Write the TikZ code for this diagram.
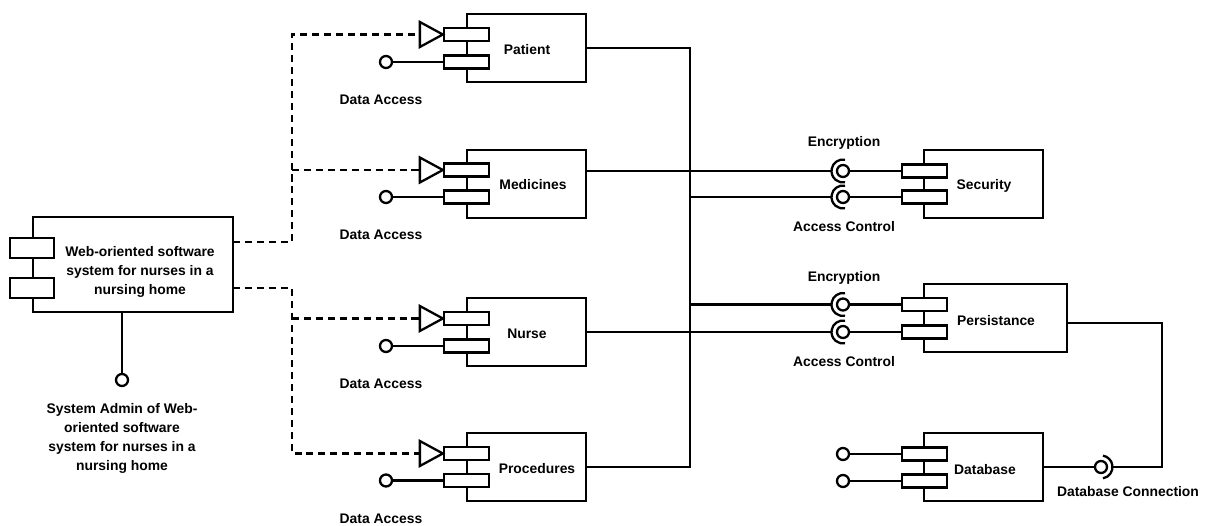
\documentclass[tikz,border=0pt]{standalone}
\usepackage{fontspec}
\setmainfont{Liberation Sans}
\usetikzlibrary{calc}
\newcommand{\pxu}{0.02cm}
\newcommand{\reqtri}[2]{%
  \draw[ln,fill=white] (#1.west) -- ++(-23,-12.5) -- ++(0,25) -- cycle;
  \coordinate (#2) at ([xshift=-23*\pxu]#1.west);}
\newcommand{\sockR}[2]{% socket opening right, around ball #1, left point #2
  \draw[ln] ([shift={(80:11.5*\pxu)}]#1.center) arc[start angle=80,end angle=280,radius=11.5*\pxu];
  \coordinate (#2) at ([xshift=-11.5*\pxu]#1.center);}
\begin{document}
\begin{tikzpicture}[x=0.02cm,y=-0.02cm,
  ln/.style={line width=1.3pt},
  comp/.style={draw,line width=1.3pt,fill=white,rectangle,inner sep=0pt},
  port/.style={draw,line width=1.3pt,fill=white,rectangle,inner sep=0pt,minimum width=45*\pxu,minimum height=13*\pxu},
  ball/.style={draw,line width=1.3pt,fill=white,circle,inner sep=0pt,minimum size=12*\pxu},
  dep/.style={line width=1.3pt,dash pattern=on 4pt off 2.8pt},
  txt/.style={align=center,inner sep=0pt,font=\fontsize{7.9}{10.9}\selectfont\bfseries}]
\fill[white] (0,0) rectangle (1211,526);
\useasboundingbox (0,0) rectangle (1211,526);

% ---------- Web-oriented system ----------
\node[comp,minimum width=200*\pxu,minimum height=95*\pxu] (web) at (133,264.5) {};
\node[port,minimum width=44*\pxu,minimum height=20*\pxu] (webP1) at (32,248) {};
\node[port,minimum width=44*\pxu,minimum height=20*\pxu] (webP2) at (32,288) {};
\node[txt] (webT) at (140,272) {Web-oriented software\\system for nurses in a\\nursing home};
\node[ball] (webB) at (122,380) {};
\draw[ln] (web.south -| webB) -- (webB);
\node[txt] (adminT) at (122,438.5) {System Admin of Web-\\oriented software\\system for nurses in a\\nursing home};

% ---------- Left column components ----------
% Patient
\node[comp,minimum width=119*\pxu,minimum height=68*\pxu] (patient) at (526.5,48) {};
\node[port] (patP1) at (466.5,34.5) {};
\node[port] (patP2) at (466.5,62) {};
\node[txt] (patientT) at (527,50) {Patient};
\reqtri{patP1}{patTri}
\node[ball] (patB) at (386,62) {};
\draw[ln] (patB) -- (patP2);
\node[txt] (patDA) at (381,100) {Data Access};

% Medicines
\node[comp,minimum width=119*\pxu,minimum height=68*\pxu] (medicines) at (526.5,184) {};
\node[port] (medP1) at (466.5,170) {};
\node[port] (medP2) at (466.5,197) {};
\node[txt] (medicinesT) at (533,185) {Medicines};
\reqtri{medP1}{medTri}
\node[ball] (medB) at (386,197) {};
\draw[ln] (medB) -- (medP2);
\node[txt] (medDA) at (381,235) {Data Access};

% Nurse
\node[comp,minimum width=119*\pxu,minimum height=68*\pxu] (nurse) at (526.5,332) {};
\node[port] (nurP1) at (466.5,318.5) {};
\node[port] (nurP2) at (466.5,346) {};
\node[txt] (nurseT) at (527,334) {Nurse};
\reqtri{nurP1}{nurTri}
\node[ball] (nurB) at (386,346) {};
\draw[ln] (nurB) -- (nurP2);
\node[txt] (nurDA) at (381,384) {Data Access};

% Procedures
\node[comp,minimum width=119*\pxu,minimum height=68*\pxu] (procedures) at (526.5,467) {};
\node[port] (proP1) at (466.5,453.5) {};
\node[port] (proP2) at (466.5,480.5) {};
\node[txt] (proceduresT) at (537,469) {Procedures};
\reqtri{proP1}{proTri}
\node[ball] (proB) at (386,480.5) {};
\draw[ln] (proB) -- (proP2);
\node[txt] (proDA) at (381,519) {Data Access};

% ---------- Dashed dependencies ----------
\coordinate (wA) at (233,242);
\coordinate (wB) at (233,288);
\coordinate (j1) at (292,242);
\coordinate (j2) at (292,288);
\draw[dep] (wA) -- (j1) |- (patTri);
\draw[dep] (j1 |- medTri) -- (medTri);
\draw[dep] (wB) -- (j2) |- (proTri);
\draw[dep] (j2 |- nurTri) -- (nurTri);

% ---------- Security ----------
\node[comp,minimum width=119*\pxu,minimum height=68*\pxu] (security) at (983.5,184) {};
\node[port] (secP1) at (924.5,171) {};
\node[port] (secP2) at (924.5,197) {};
\node[txt] (securityT) at (984,186) {Security};
\node[ball] (secB1) at (843,171) {};
\node[ball] (secB2) at (843,197) {};
\draw[ln] (secB1) -- (secP1);
\draw[ln] (secB2) -- (secP2);
\sockR{secB1}{secS1}
\sockR{secB2}{secS2}
\node[txt] (secEnc) at (844,143) {Encryption};
\node[txt] (secAC) at (844,227) {Access Control};

% ---------- Persistance ----------
\node[comp,minimum width=143*\pxu,minimum height=68*\pxu] (persistance) at (995.5,318) {};
\node[port] (perP1) at (924.5,304.5) {};
\node[port] (perP2) at (924.5,332) {};
\node[txt] (persistanceT) at (996,321) {Persistance};
\node[ball] (perB1) at (843,304.5) {};
\node[ball] (perB2) at (843,332) {};
\draw[ln] (perB1) -- (perP1);
\draw[ln] (perB2) -- (perP2);
\sockR{perB1}{perS1}
\sockR{perB2}{perS2}
\node[txt] (perEnc) at (844,278) {Encryption};
\node[txt] (perAC) at (844,362) {Access Control};

% ---------- Bus connections ----------
\coordinate (busT) at (690,48);
\coordinate (busB) at (690,467);
\draw[ln] (patient.east) -- (busT) -- (busB) -- (procedures.east);
\draw[ln] (medicines.east |- secS1) -- (secS1);
\draw[ln] (busT |- secS2) -- (secS2);
\draw[ln] (busT |- perS1) -- (perS1);
\draw[ln] (nurse.east) -- (perS2);

% ---------- Database ----------
\node[comp,minimum width=119*\pxu,minimum height=68*\pxu] (database) at (983.5,467) {};
\node[port] (dbP1) at (924.5,454) {};
\node[port] (dbP2) at (924.5,481) {};
\node[txt] (databaseT) at (985,470) {Database};
\node[ball] (dbB1) at (843,454) {};
\node[ball] (dbB2) at (843,481) {};
\draw[ln] (dbB1) -- (dbP1);
\draw[ln] (dbB2) -- (dbP2);
\node[ball] (dbConnB) at (1101,467) {};
\draw[ln] (database.east) -- (dbConnB);
\draw[ln] ([shift={(-80:11.5*\pxu)}]dbConnB.center) arc[start angle=-80,end angle=80,radius=11.5*\pxu];
\coordinate (dbS) at ([xshift=11.5*\pxu]dbConnB.center);
\coordinate (dbC) at (1162,467);
\draw[ln] (dbS) -- (dbC) |- ([yshift=-0.1cm]persistance.east);
\node[txt] (dbConnT) at (1128,492) {Database Connection};
\end{tikzpicture}
\end{document}
